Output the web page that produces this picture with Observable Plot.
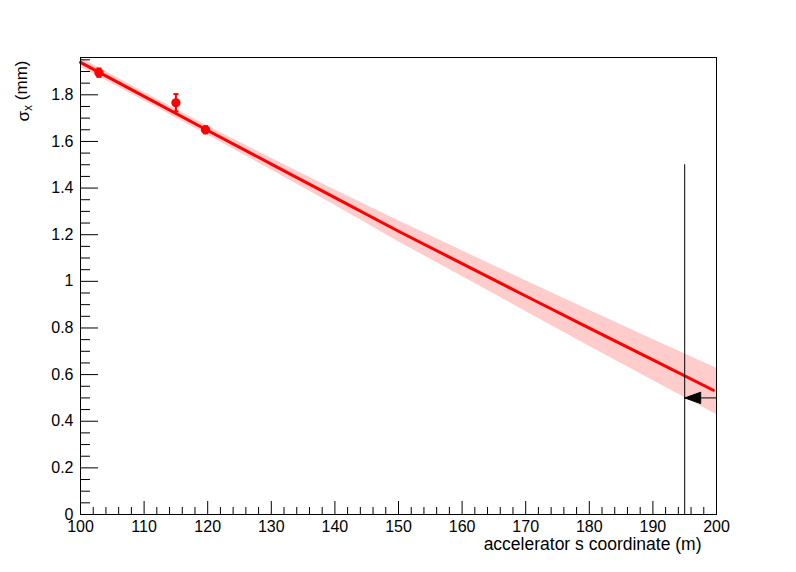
<!DOCTYPE html>
<html>
<head>
<meta charset="utf-8">
<script src="https://cdn.jsdelivr.net/npm/d3@7"></script>
<script src="https://cdn.jsdelivr.net/npm/@observablehq/plot@0.6"></script>
<style>
  html, body { margin: 0; padding: 0; background: #fff; }
  svg { display: block; }
</style>
</head>
<body>
<div id="chart"></div>
<script>
// Measured points (s in m, sigma_x in mm, error in mm)
const pointS = [102.9, 115.0, 119.65];
const pointSigma = [1.895, 1.766, 1.650];
const pointErr = [0.018, 0.037, 0.015];

// Fit curve
const fitS = [100, 110, 120, 130, 140, 150, 160, 170, 180, 190, 199.5];
const fitSigma = [1.939, 1.793, 1.647, 1.503, 1.359, 1.215, 1.076, 0.937, 0.799, 0.663, 0.533];

// Confidence band
const bandS = [100, 110, 120, 130, 140, 150, 160, 170, 180, 190, 200];
const bandLow = [1.919, 1.775, 1.628, 1.478, 1.326, 1.170, 1.021, 0.871, 0.722, 0.575, 0.429];
const bandHigh = [1.959, 1.811, 1.666, 1.528, 1.392, 1.260, 1.131, 1.003, 0.876, 0.751, 0.627];

// Marker line and arrow
const markerS = [195];
const markerTop = [1.5];
const arrowFrom = [200];
const arrowTo = [195];
const arrowLevel = [0.5];

// Axes
const xMajor = [100, 110, 120, 130, 140, 150, 160, 170, 180, 190, 200];
const xMinor = [102, 104, 106, 108, 112, 114, 116, 118, 122, 124, 126, 128, 132, 134, 136, 138,
  142, 144, 146, 148, 152, 154, 156, 158, 162, 164, 166, 168, 172, 174, 176, 178,
  182, 184, 186, 188, 192, 194, 196, 198];
const yMajor = [0, 0.2, 0.4, 0.6, 0.8, 1, 1.2, 1.4, 1.6, 1.8];
const yMinor = [0.05, 0.1, 0.15, 0.25, 0.3, 0.35, 0.45, 0.5, 0.55, 0.65, 0.7, 0.75, 0.85, 0.9, 0.95,
  1.05, 1.1, 1.15, 1.25, 1.3, 1.35, 1.45, 1.5, 1.55, 1.65, 1.7, 1.75, 1.85, 1.9, 1.95];
const xTitle = "accelerator s coordinate (m)";
const yTitleParts = ["σ", "x", " (mm)"];

const points = pointS.map((s, i) => ({s, y: pointSigma[i], lo: pointSigma[i] - pointErr[i], hi: pointSigma[i] + pointErr[i]}));
const fit = fitS.map((s, i) => ({s, y: fitSigma[i]}));
const band = bandS.map((s, i) => ({s, lo: bandLow[i], hi: bandHigh[i]}));
const marker = markerS.map((s, i) => ({s, top: markerTop[i]}));
const arrow = arrowFrom.map((s, i) => ({x1: s, x2: arrowTo[i], y: arrowLevel[i]}));

const fontFamily = "'Liberation Sans', Arial, Helvetica, sans-serif";
const fmt = d => `${+d.toFixed(2)}`;

const capSymbol = {draw(ctx) { ctx.moveTo(-2.5, 0); ctx.lineTo(2.5, 0); }};
const headSymbol = {draw(ctx) { ctx.moveTo(0, 0); ctx.lineTo(16, -5.7); ctx.lineTo(16, 5.7); ctx.closePath(); }};

const chart = Plot.plot({
  width: 796,
  height: 572,
  marginLeft: 80,
  marginRight: 80,
  marginTop: 57,
  marginBottom: 58,
  style: {fontFamily, fontSize: "16px", color: "black", background: "white"},
  x: {type: "linear", domain: [100, 200]},
  y: {type: "linear", domain: [0, 1.96]},
  marks: [
    Plot.areaY(band, {x: "s", y1: "lo", y2: "hi", fill: "#ffcccc", fillOpacity: 1}),
    Plot.line(fit, {x: "s", y: "y", stroke: "#ff0000", strokeWidth: 3}),
    Plot.ruleX(points, {x: "s", y1: "lo", y2: "hi", stroke: "#ff0000", strokeWidth: 2}),
    Plot.dot(points, {x: "s", y: "hi", symbol: capSymbol, stroke: "#ff0000", strokeWidth: 2, fill: "none"}),
    Plot.dot(points, {x: "s", y: "lo", symbol: capSymbol, stroke: "#ff0000", strokeWidth: 2, fill: "none"}),
    Plot.dot(points, {x: "s", y: "y", r: 4.6, fill: "#ff0000", stroke: "none"}),
    Plot.ruleX(marker, {x: "s", y1: 0, y2: "top", stroke: "black", strokeWidth: 1}),
    Plot.link(arrow, {x1: "x1", x2: "x2", y1: "y", y2: "y", stroke: "black", strokeWidth: 1}),
    Plot.dot(arrow, {x: "x2", y: "y", symbol: headSymbol, fill: "black", stroke: "black", strokeWidth: 1}),
    Plot.axisX(xMajor, {anchor: "bottom", tickSize: -13, tickPadding: 19, tickFormat: fmt, label: null, fontSize: 16}),
    Plot.axisX(xMinor, {anchor: "bottom", tickSize: -7, tickFormat: () => "", label: null}),
    Plot.axisY(yMajor, {anchor: "left", tickSize: -18, tickPadding: 25, tickFormat: fmt, label: null, fontSize: 16}),
    Plot.axisY(yMinor, {anchor: "left", tickSize: -10, tickFormat: () => "", label: null}),
    Plot.frame({stroke: "black", strokeWidth: 1}),
    Plot.text([xTitle], {frameAnchor: "bottom-right", text: d => d, textAnchor: "end", lineAnchor: "bottom", dx: -15, dy: 35, fontSize: 17.5}),
    Plot.text([yTitleParts.join("")], {frameAnchor: "top-left", text: d => d, rotate: -90, textAnchor: "end", lineAnchor: "bottom", dx: -52, dy: 3, fontSize: 17, className: "ytitle"})
  ]
});

// Render the subscript of the y title with tspans
d3.select(chart).selectAll('.ytitle text').each(function() {
  const t = d3.select(this);
  t.text(null);
  t.append("tspan").text(yTitleParts[0]);
  t.append("tspan").attr("dy", "0.3em").attr("font-size", "12px").text(yTitleParts[1]);
  t.append("tspan").attr("dy", "-0.3em").text(yTitleParts[2]);
});

document.getElementById("chart").appendChild(chart);
</script>
</body>
</html>
